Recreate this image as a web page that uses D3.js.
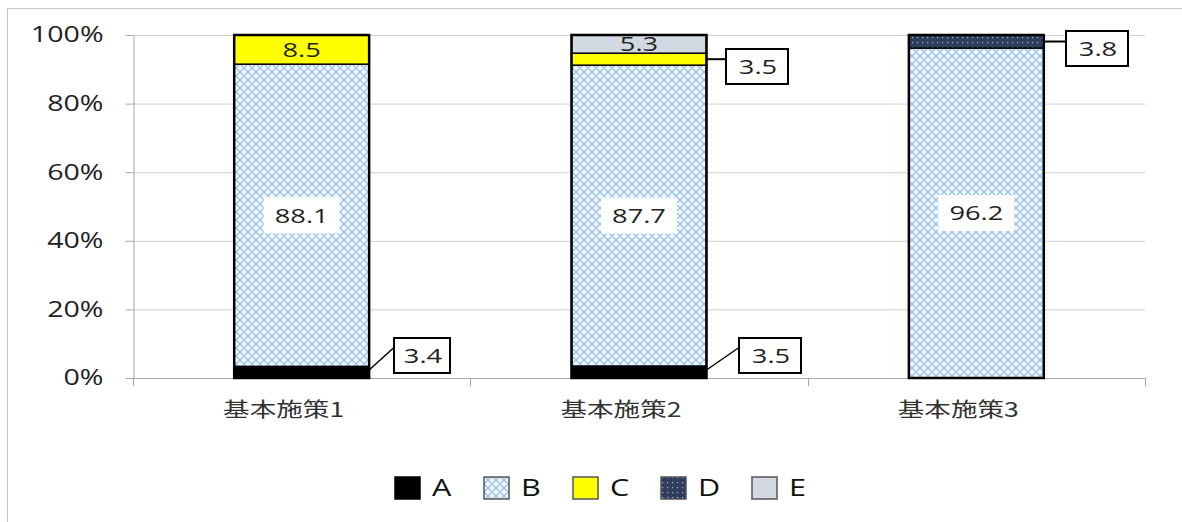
<!DOCTYPE html>
<html><head><meta charset="utf-8">
<script src="https://cdn.jsdelivr.net/npm/d3@7"></script>
<style>body{margin:0;background:#fff;}svg{display:block;font-family:"Open Sans","DejaVu Sans",sans-serif;}</style>
</head><body><svg id="c" width="1182" height="522"></svg>
<script>
const categories = ["基本施策1","基本施策2","基本施策3"];
const seriesNames = ["A","B","C","D","E"];
const valuesA = [3.4, 3.5, 0];
const valuesB = [88.1, 87.7, 96.2];
const valuesC = [8.5, 3.5, 0];
const valuesD = [0, 0, 3.8];
const valuesE = [0, 5.3, 0];
const yTicks = [0,20,40,60,80,100];

(function(){
const SX = 1.33;
const svg = d3.select("#c");
const defs = svg.append("defs");
const pB = defs.append("pattern").attr("id","pB").attr("patternUnits","userSpaceOnUse").attr("width",8).attr("height",8);
pB.append("rect").attr("width",8).attr("height",8).attr("fill","#eef6fc");
pB.append("path").attr("d","M0,0L8,8M8,0L0,8M-1,7L1,9M7,-1L9,1").attr("stroke","#8fb8e0").attr("stroke-width",1.1);
const pD = defs.append("pattern").attr("id","pD").attr("patternUnits","userSpaceOnUse").attr("width",5).attr("height",5);
pD.append("rect").attr("width",5).attr("height",5).attr("fill","#2e3f5e");
pD.append("rect").attr("x",2).attr("y",2).attr("width",1.2).attr("height",1.2).attr("fill","#9fb0cc");
const fills = {A:"#000000",B:"url(#pB)",C:"#ffff00",D:"url(#pD)",E:"#d3d9e3"};

svg.append("rect").attr("x",7.5).attr("y",8.5).attr("width",1180).attr("height",520).attr("fill","#fff").attr("stroke","#c8c8c8");

function txt(g, tx, ty, str, size, anchor, fam){
  return g.append("text").attr("transform",`translate(${tx},${ty}) scale(${SX},1)`)
    .attr("text-anchor",anchor||"middle").attr("dy","0.36em").attr("font-size",size)
    .attr("font-family",fam||null).attr("fill","#222").text(str);
}

const pl=133, pr=1145, pt=35, pb=378;
const x = d3.scaleBand().domain(categories).range([pl,pr]).paddingInner(0.6).paddingOuter(0.3);
const y = d3.scaleLinear().domain([0,100]).range([pb,pt]);

svg.append("g").selectAll("line").data(yTicks.slice(1)).join("line")
  .attr("x1",pl).attr("x2",pr).attr("y1",d=>y(d)+0.5).attr("y2",d=>y(d)+0.5)
  .attr("stroke","#cfcfcf").attr("stroke-width",1);

const yAxis = svg.append("g").attr("transform",`translate(${pl+0.5},0)`)
  .call(d3.axisLeft(y).tickValues(yTicks).tickFormat(d=>d+"%").tickSizeInner(8).tickSizeOuter(0).tickPadding(10));
yAxis.select(".domain").attr("stroke","#a8a8a8");
yAxis.selectAll(".tick line").attr("stroke","#a8a8a8");
yAxis.selectAll(".tick text").attr("x",null).attr("transform",`translate(-30,0) scale(${SX},1)`)
  .attr("font-size",21.5).attr("fill","#222").attr("font-family","'Open Sans',sans-serif");

svg.append("line").attr("x1",pl).attr("x2",pr).attr("y1",pb+0.5).attr("y2",pb+0.5).attr("stroke","#a8a8a8");
const step = (pr-pl)/categories.length;
svg.append("g").selectAll("line").data(d3.range(categories.length+1)).join("line")
  .attr("x1",i=>Math.round(pl+i*step)+0.5).attr("x2",i=>Math.round(pl+i*step)+0.5)
  .attr("y1",pb).attr("y2",pb+8).attr("stroke","#a8a8a8");
const gX = svg.append("g");
categories.forEach(c=>txt(gX, x(c)+x.bandwidth()/2-18, 410, c, 20, "middle", "'Noto Sans CJK JP',sans-serif").attr("fill","#333"));

const table = categories.map((c,i)=>({cat:c,A:valuesA[i],B:valuesB[i],C:valuesC[i],D:valuesD[i],E:valuesE[i]}));
const stack = d3.stack().keys(seriesNames)(table);

const gBars = svg.append("g");
stack.forEach(s=>{
  gBars.selectAll(null).data(s.filter(d=>d[1]-d[0]>0)).join("rect")
    .attr("x",d=>x(d.data.cat)).attr("width",x.bandwidth())
    .attr("y",d=>y(d[1])).attr("height",d=>y(d[0])-y(d[1]))
    .attr("fill",fills[s.key]).attr("stroke","#000").attr("stroke-width",1.5);
});
gBars.selectAll(null).data(table).join("rect")
  .attr("x",d=>x(d.cat)).attr("width",x.bandwidth()).attr("y",y(100)).attr("height",y(0)-y(100))
  .attr("fill","none").attr("stroke","#000").attr("stroke-width",2.5);

const gL = svg.append("g");
function inside(cat, key, val, boxed){
  const s = stack.find(k=>k.key===key); const d = s[categories.indexOf(cat)];
  const cx = x(cat)+x.bandwidth()/2, cy = (y(d[0])+y(d[1]))/2;
  if(boxed){
    gL.append("rect").attr("x",cx-38).attr("y",cy-18).attr("width",76).attr("height",36).attr("fill","#fff");
  }
  txt(gL, cx, cy, val.toFixed(1), 20.5, "middle");
}
function outside(cat, key, val, bx, by, w, lineFromBottom){
  const s = stack.find(k=>k.key===key); const d = s[categories.indexOf(cat)];
  const xr = x(cat)+x.bandwidth();
  const cy = (y(d[0])+y(d[1]))/2;
  const h=35;
  if(lineFromBottom){
    gL.append("line").attr("x1",xr).attr("y1",y(d[0])-8).attr("x2",bx).attr("y2",by+h/2-8).attr("stroke","#000").attr("stroke-width",1.5);
  } else {
    gL.append("line").attr("x1",xr).attr("y1",cy).attr("x2",bx).attr("y2",cy).attr("stroke","#000").attr("stroke-width",2);
  }
  gL.append("rect").attr("x",bx).attr("y",by).attr("width",w).attr("height",h).attr("fill","#fff").attr("stroke","#000").attr("stroke-width",2);
  txt(gL, bx+w/2+1, by+h/2, val.toFixed(1), 20.5, "middle");
}
inside(categories[0],"B",valuesB[0],true);
inside(categories[1],"B",valuesB[1],true);
inside(categories[2],"B",valuesB[2],true);
inside(categories[0],"C",valuesC[0],false);
inside(categories[1],"E",valuesE[1],false);
outside(categories[0],"A",valuesA[0],394,338,56,true);
outside(categories[1],"A",valuesA[1],739,338,62,true);
outside(categories[1],"C",valuesC[1],726,49,62,false);
outside(categories[2],"D",valuesD[2],1066,31,62,false);

const legX = [395,484,573,661,752];
const lg = svg.append("g");
seriesNames.forEach((k,i)=>{
  lg.append("rect").attr("x",legX[i]).attr("y",477).attr("width",25).attr("height",22)
    .attr("fill",fills[k]).attr("stroke",k==="A"?"#000":"#555").attr("stroke-width",1.5);
  txt(lg, legX[i]+37, 488, k, 23, "start").attr("fill","#111");
});
})();
</script></body></html>
